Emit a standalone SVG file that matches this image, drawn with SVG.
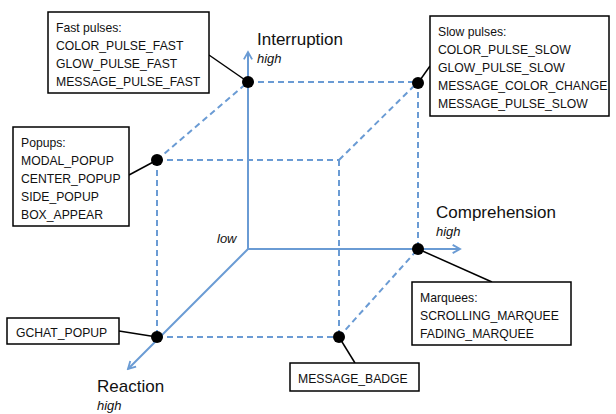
<svg xmlns="http://www.w3.org/2000/svg" width="616" height="414" viewBox="0 0 616 414">
  <style>
    .axis { stroke: #6a9bd4; stroke-width: 2; fill: none; }
    .edge { stroke: #6a9bd4; stroke-width: 2; fill: none; stroke-dasharray: 6 4; }
    .lead { stroke: #000; stroke-width: 1.5; fill: none; }
    .box { fill: #fff; stroke: #000; stroke-width: 1.5; }
    .dot { fill: #000; }
    .lbl { font-family: "Liberation Sans", Arial, sans-serif; font-size: 12.2px; fill: #111; }
    .ax { font-family: "Liberation Sans", Arial, sans-serif; font-size: 17px; fill: #111; }
    .it { font-family: "Liberation Sans", Arial, sans-serif; font-size: 13px; font-style: italic; fill: #111; }
  </style>
  <defs>
    <marker id="arr" viewBox="0 0 12 12" refX="10" refY="6" markerWidth="11" markerHeight="11" markerUnits="userSpaceOnUse" orient="auto">
      <path d="M2,1.5 L10,6 L2,10.5" fill="none" stroke="#6a9bd4" stroke-width="2"/>
    </marker>
  </defs>

  <!-- cube edges and axes -->
  <g id="connectors">
    <line class="edge" x1="248" y1="82" x2="418" y2="82"/>
    <line class="edge" x1="418" y1="82" x2="418" y2="249"/>
    <line class="edge" x1="157" y1="160" x2="339" y2="160"/>
    <line class="edge" x1="157" y1="160" x2="157" y2="337"/>
    <line class="edge" x1="157" y1="337" x2="339" y2="337"/>
    <line class="edge" x1="339" y1="160" x2="339" y2="337"/>
    <line class="edge" x1="157" y1="160" x2="248" y2="82"/>
    <line class="edge" x1="339" y1="160" x2="418" y2="82"/>
    <line class="edge" x1="339" y1="337" x2="418" y2="249"/>

    <line class="axis" x1="248" y1="249" x2="248" y2="52" marker-end="url(#arr)"/>
    <line class="axis" x1="248" y1="249" x2="460" y2="249" marker-end="url(#arr)"/>
    <line class="axis" x1="248" y1="249" x2="128" y2="369" marker-end="url(#arr)"/>

    <line class="lead" x1="209" y1="55" x2="248" y2="82"/>
    <line class="lead" x1="430" y1="66" x2="418" y2="83"/>
    <line class="lead" x1="129" y1="175" x2="157" y2="160"/>
    <line class="lead" x1="418" y1="249" x2="492" y2="282"/>
    <line class="lead" x1="119" y1="331" x2="157" y2="337"/>
    <line class="lead" x1="339" y1="337" x2="355" y2="363"/>
  </g>

  <!-- axis labels -->
  <g id="axis-interruption">
    <text class="ax" x="257" y="45">Interruption</text>
    <text class="it" x="257" y="63">high</text>
  </g>
  <g id="axis-comprehension">
    <text class="ax" x="436" y="218">Comprehension</text>
    <text class="it" x="436" y="236">high</text>
  </g>
  <g id="axis-reaction">
    <text class="ax" x="97" y="392">Reaction</text>
    <text class="it" x="97" y="410">high</text>
  </g>
  <g id="origin">
    <text class="it" x="217" y="243">low</text>
  </g>

  <!-- corner points -->
  <g id="fast-pulses">
    <rect class="box" x="48" y="12" width="161" height="81"/>
    <text class="lbl" x="56" y="32">Fast pulses:</text>
    <text class="lbl" x="56" y="50">COLOR_PULSE_FAST</text>
    <text class="lbl" x="56" y="68">GLOW_PULSE_FAST</text>
    <text class="lbl" x="56" y="86">MESSAGE_PULSE_FAST</text>
    <circle class="dot" cx="248" cy="82" r="6"/>
  </g>

  <g id="slow-pulses">
    <rect class="box" x="430" y="16" width="179" height="100"/>
    <text class="lbl" x="438" y="36">Slow pulses:</text>
    <text class="lbl" x="438" y="54">COLOR_PULSE_SLOW</text>
    <text class="lbl" x="438" y="72">GLOW_PULSE_SLOW</text>
    <text class="lbl" x="438" y="90">MESSAGE_COLOR_CHANGE</text>
    <text class="lbl" x="438" y="108">MESSAGE_PULSE_SLOW</text>
    <circle class="dot" cx="418" cy="83" r="6"/>
  </g>

  <g id="popups">
    <rect class="box" x="13" y="127" width="116" height="99"/>
    <text class="lbl" x="21" y="147">Popups:</text>
    <text class="lbl" x="21" y="165">MODAL_POPUP</text>
    <text class="lbl" x="21" y="183">CENTER_POPUP</text>
    <text class="lbl" x="21" y="201">SIDE_POPUP</text>
    <text class="lbl" x="21" y="219">BOX_APPEAR</text>
    <circle class="dot" cx="157" cy="160" r="6"/>
  </g>

  <g id="marquees">
    <rect class="box" x="412" y="282" width="159" height="63"/>
    <text class="lbl" x="420" y="302">Marquees:</text>
    <text class="lbl" x="420" y="320">SCROLLING_MARQUEE</text>
    <text class="lbl" x="420" y="338">FADING_MARQUEE</text>
    <circle class="dot" cx="418" cy="249" r="6"/>
  </g>

  <g id="gchat-popup">
    <rect class="box" x="7" y="318" width="112" height="26"/>
    <text class="lbl" x="16" y="337">GCHAT_POPUP</text>
    <circle class="dot" cx="157" cy="337" r="6"/>
  </g>

  <g id="message-badge">
    <rect class="box" x="290" y="363" width="129" height="28"/>
    <text class="lbl" x="298" y="383">MESSAGE_BADGE</text>
    <circle class="dot" cx="339" cy="337" r="6"/>
  </g>
</svg>
